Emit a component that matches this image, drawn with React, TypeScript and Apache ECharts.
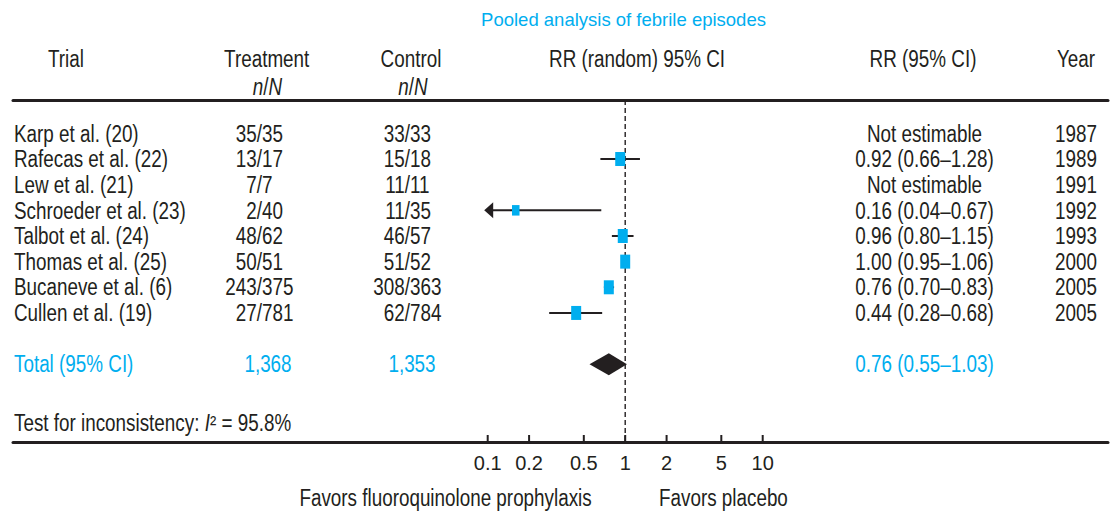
import React, { useEffect, useRef } from "react";
import * as echarts from "echarts";

// ---------------- data ----------------
const trials = [
  "Karp et al. (20)",
  "Rafecas et al. (22)",
  "Lew et al. (21)",
  "Schroeder et al. (23)",
  "Talbot et al. (24)",
  "Thomas et al. (25)",
  "Bucaneve et al. (6)",
  "Cullen et al. (19)",
];
const treatment = ["35/35", "13/17", "7/7", "2/40", "48/62", "50/51", "243/375", "27/781"];
const control = ["33/33", "15/18", "11/11", "11/35", "46/57", "51/52", "308/363", "62/784"];
const rr: (number | null)[] = [null, 0.92, null, 0.16, 0.96, 1.0, 0.76, 0.44];
const ciLow: (number | null)[] = [null, 0.66, null, 0.04, 0.8, 0.95, 0.7, 0.28];
const ciHigh: (number | null)[] = [null, 1.28, null, 0.67, 1.15, 1.06, 0.83, 0.68];
const boxWeight = [0, 1, 0, 0.75, 1, 1, 1, 1];
const years = ["1987", "1989", "1991", "1992", "1993", "2000", "2005", "2005"];
const totalTreatment = "1,368";
const totalControl = "1,353";
const pooledRR = 0.76;
const pooledLow = 0.55;
const pooledHigh = 1.03;
const inconsistencyI2 = 95.8;
const tickValues = [0.1, 0.2, 0.5, 1, 2, 5, 10];

// ---------------- style / layout ----------------
const INK = "#231f20";
const BLUE = "#00aeef";
const FONT = '"Liberation Sans", Arial, Helvetica, sans-serif';
const NARROW = 0.82; // horizontal squeeze to imitate a condensed face
const FS = 23;
const ROW_MIN = -1.3;
const ROW_MAX = 12.03;
const TOTAL_ROW = 9;
const TEST_ROW = 11.28;
const COL = { name: 14, treatSlash: 262, ctrlSlash: 410, treatTotal: 268, ctrlTotal: 412, rr: 924.5, year: 1097 };

const fmt = (v: number) => v.toFixed(2);
const rrText = (i: number) =>
  rr[i] == null ? "Not estimable" : `${fmt(rr[i] as number)} (${fmt(ciLow[i] as number)}–${fmt(ciHigh[i] as number)})`;

type Cell = { x: number; row: number; text: string; align: string; color: string; rich?: boolean };

function buildCells(): Cell[] {
  const cells: Cell[] = [];
  trials.forEach((name, i) => {
    cells.push({ x: COL.name, row: i, text: name, align: "left", color: INK });
    const [tn, td] = treatment[i].split("/");
    cells.push({ x: COL.treatSlash, row: i, text: tn + "/", align: "right", color: INK });
    cells.push({ x: COL.treatSlash, row: i, text: td, align: "left", color: INK });
    const [cn, cd] = control[i].split("/");
    cells.push({ x: COL.ctrlSlash, row: i, text: cn + "/", align: "right", color: INK });
    cells.push({ x: COL.ctrlSlash, row: i, text: cd, align: "left", color: INK });
    cells.push({ x: COL.rr, row: i, text: rrText(i), align: "center", color: INK });
    cells.push({ x: COL.year, row: i, text: years[i], align: "right", color: INK });
  });
  cells.push({ x: COL.name, row: TOTAL_ROW, text: "Total (95% CI)", align: "left", color: BLUE });
  cells.push({ x: COL.treatTotal, row: TOTAL_ROW, text: totalTreatment, align: "center", color: BLUE });
  cells.push({ x: COL.ctrlTotal, row: TOTAL_ROW, text: totalControl, align: "center", color: BLUE });
  cells.push({
    x: COL.rr,
    row: TOTAL_ROW,
    text: `${fmt(pooledRR)} (${fmt(pooledLow)}–${fmt(pooledHigh)})`,
    align: "center",
    color: BLUE,
  });
  cells.push({
    x: COL.name,
    row: TEST_ROW,
    text: `{n|Test for inconsistency: }{i|I}{n|² = ${inconsistencyI2.toFixed(1)}%}`,
    align: "left",
    color: INK,
    rich: true,
  });
  return cells;
}

const italicRich = {
  i: { fontStyle: "italic", fontSize: FS, fontFamily: FONT, fill: INK },
  n: { fontSize: FS, fontFamily: FONT, fill: INK },
};

function textEl(x: number, y: number, text: string, align: string, opts: any = {}) {
  const style: any = {
    text,
    align,
    textAlign: align,
    verticalAlign: "middle",
    textVerticalAlign: "middle",
    fontSize: opts.size || FS,
    fontFamily: FONT,
    fill: opts.color || INK,
  };
  if (opts.rich) style.rich = italicRich;
  return {
    type: "text",
    x,
    y,
    scaleX: opts.scaleX != null ? opts.scaleX : NARROW,
    silent: true,
    style,
  };
}

export default function App() {
  const ref = useRef<HTMLDivElement>(null);

  useEffect(() => {
    if (!ref.current) return;
    const chart = echarts.init(ref.current, undefined, { renderer: "svg" });
    const cells = buildCells();
    const lg = (v: number) => Math.log10(v);

    const forestData: number[][] = [];
    rr.forEach((v, i) => {
      if (v == null) return;
      forestData.push([lg(v), i, lg(ciLow[i] as number), lg(ciHigh[i] as number), boxWeight[i]]);
    });

    const option: any = {
      animation: false,
      backgroundColor: "#ffffff",
      grid: [
        { left: 13, right: 2, top: 100, bottom: 69 },
        { left: 487.7, right: 347.3, top: 100, bottom: 69 },
      ],
      xAxis: [
        {
          gridIndex: 0,
          type: "value",
          min: 13,
          max: 1108,
          position: "bottom",
          axisLine: { show: true, onZero: false, lineStyle: { color: INK, width: 3 } },
          axisTick: { show: false },
          axisLabel: { show: false },
          splitLine: { show: false },
        },
        {
          gridIndex: 0,
          type: "value",
          min: 13,
          max: 1108,
          position: "top",
          axisLine: { show: true, onZero: false, lineStyle: { color: INK, width: 3 } },
          axisTick: { show: false },
          axisLabel: { show: false },
          splitLine: { show: false },
        },
        {
          gridIndex: 1,
          type: "value",
          min: -1,
          max: 1,
          position: "bottom",
          axisLine: { show: false, onZero: false },
          axisTick: { show: false },
          axisLabel: {
            show: true,
            margin: 11,
            fontSize: 20,
            fontFamily: FONT,
            color: INK,
            customValues: tickValues.map(lg),
            formatter: (v: number) => String(+Math.pow(10, v).toPrecision(2)),
          },
          splitLine: { show: false },
        },
      ],
      yAxis: [
        { gridIndex: 0, type: "value", inverse: true, min: ROW_MIN, max: ROW_MAX, show: false },
        { gridIndex: 1, type: "value", inverse: true, min: ROW_MIN, max: ROW_MAX, show: false },
      ],
      graphic: [
        textEl(623.5, 19, "Pooled analysis of febrile episodes", "center", { color: BLUE, size: 18.5, scaleX: 1 }),
        textEl(48, 58.5, "Trial", "left"),
        textEl(266.7, 58.5, "Treatment", "center"),
        textEl(267.5, 87, "{i|n}{n|/}{i|N}", "center", { rich: true }),
        textEl(411, 58.5, "Control", "center"),
        textEl(413, 87, "{i|n}{n|/}{i|N}", "center", { rich: true }),
        textEl(637, 58.5, "RR (random) 95% CI", "center"),
        textEl(923, 58.5, "RR (95% CI)", "center"),
        textEl(1095, 58.5, "Year", "right"),
        textEl(591.7, 497.5, "Favors fluoroquinolone prophylaxis", "right"),
        textEl(659, 497.5, "Favors placebo", "left"),
      ],
      series: [
        {
          type: "custom",
          name: "table",
          coordinateSystem: "cartesian2d",
          xAxisIndex: 0,
          yAxisIndex: 0,
          silent: true,
          clip: false,
          data: cells.map((c) => [c.x, c.row]),
          renderItem: (params: any, api: any) => {
            const c = cells[params.dataIndex];
            const p = api.coord([api.value(0), api.value(1)]);
            return textEl(p[0], p[1], c.text, c.align, { color: c.color, rich: c.rich });
          },
        },
        {
          type: "custom",
          name: "ticks",
          coordinateSystem: "cartesian2d",
          xAxisIndex: 2,
          yAxisIndex: 1,
          silent: true,
          clip: false,
          z: 10,
          data: tickValues.map((v) => [lg(v), ROW_MAX]),
          renderItem: (params: any, api: any) => {
            const p = api.coord([api.value(0), api.value(1)]);
            return {
              type: "rect",
              shape: { x: p[0] - 1, y: p[1] - 7, width: 2, height: 8 },
              style: { fill: INK },
            };
          },
        },
        {
          type: "custom",
          name: "reference",
          coordinateSystem: "cartesian2d",
          xAxisIndex: 2,
          yAxisIndex: 1,
          silent: true,
          clip: false,
          data: [[0, ROW_MIN]],
          renderItem: (params: any, api: any) => {
            const a = api.coord([api.value(0), ROW_MIN]);
            const b = api.coord([api.value(0), ROW_MAX]);
            return {
              type: "line",
              shape: { x1: a[0], y1: a[1], x2: b[0], y2: b[1] },
              style: { stroke: INK, lineWidth: 1.4, lineDash: [5, 3] },
            };
          },
        },
        {
          type: "custom",
          name: "trials",
          coordinateSystem: "cartesian2d",
          xAxisIndex: 2,
          yAxisIndex: 1,
          silent: true,
          clip: false,
          data: forestData,
          renderItem: (params: any, api: any) => {
            const row = api.value(1);
            const c = api.coord([api.value(0), row]);
            const y = c[1];
            const lo = api.value(2);
            const clipped = lo < -1;
            const xLo = api.coord([Math.max(lo, -1), row])[0];
            const xHi = api.coord([api.value(3), row])[0];
            const w = api.value(4);
            const children: any[] = [
              {
                type: "line",
                shape: { x1: clipped ? xLo + 5 : xLo, y1: y, x2: xHi, y2: y },
                style: { stroke: INK, lineWidth: 2 },
              },
            ];
            if (clipped) {
              children.push({
                type: "polygon",
                shape: { points: [[xLo - 3.5, y], [xLo + 5.5, y - 8], [xLo + 5.5, y + 8]] },
                style: { fill: INK },
              });
            }
            children.push({
              type: "rect",
              shape: { x: c[0] - 5 * w, y: y - 7 * w, width: 10 * w, height: 14 * w },
              style: { fill: BLUE },
            });
            return { type: "group", children };
          },
        },
        {
          type: "custom",
          name: "pooled",
          coordinateSystem: "cartesian2d",
          xAxisIndex: 2,
          yAxisIndex: 1,
          silent: true,
          clip: false,
          data: [[lg(pooledRR), TOTAL_ROW, lg(pooledLow), lg(pooledHigh)]],
          renderItem: (params: any, api: any) => {
            const row = api.value(1);
            const c = api.coord([api.value(0), row]);
            const xLo = api.coord([api.value(2), row])[0];
            const xHi = api.coord([api.value(3), row])[0];
            const y = c[1];
            return {
              type: "polygon",
              shape: { points: [[xLo, y], [c[0], y - 11], [xHi, y], [c[0], y + 11]] },
              style: { fill: INK },
            };
          },
        },
      ],
    };

    chart.setOption(option);
    return () => chart.dispose();
  }, []);

  return (
    <div
      ref={ref}
      style={{ position: "absolute", left: 0, top: 0, width: 1110, height: 511, background: "#fff" }}
    />
  );
}
